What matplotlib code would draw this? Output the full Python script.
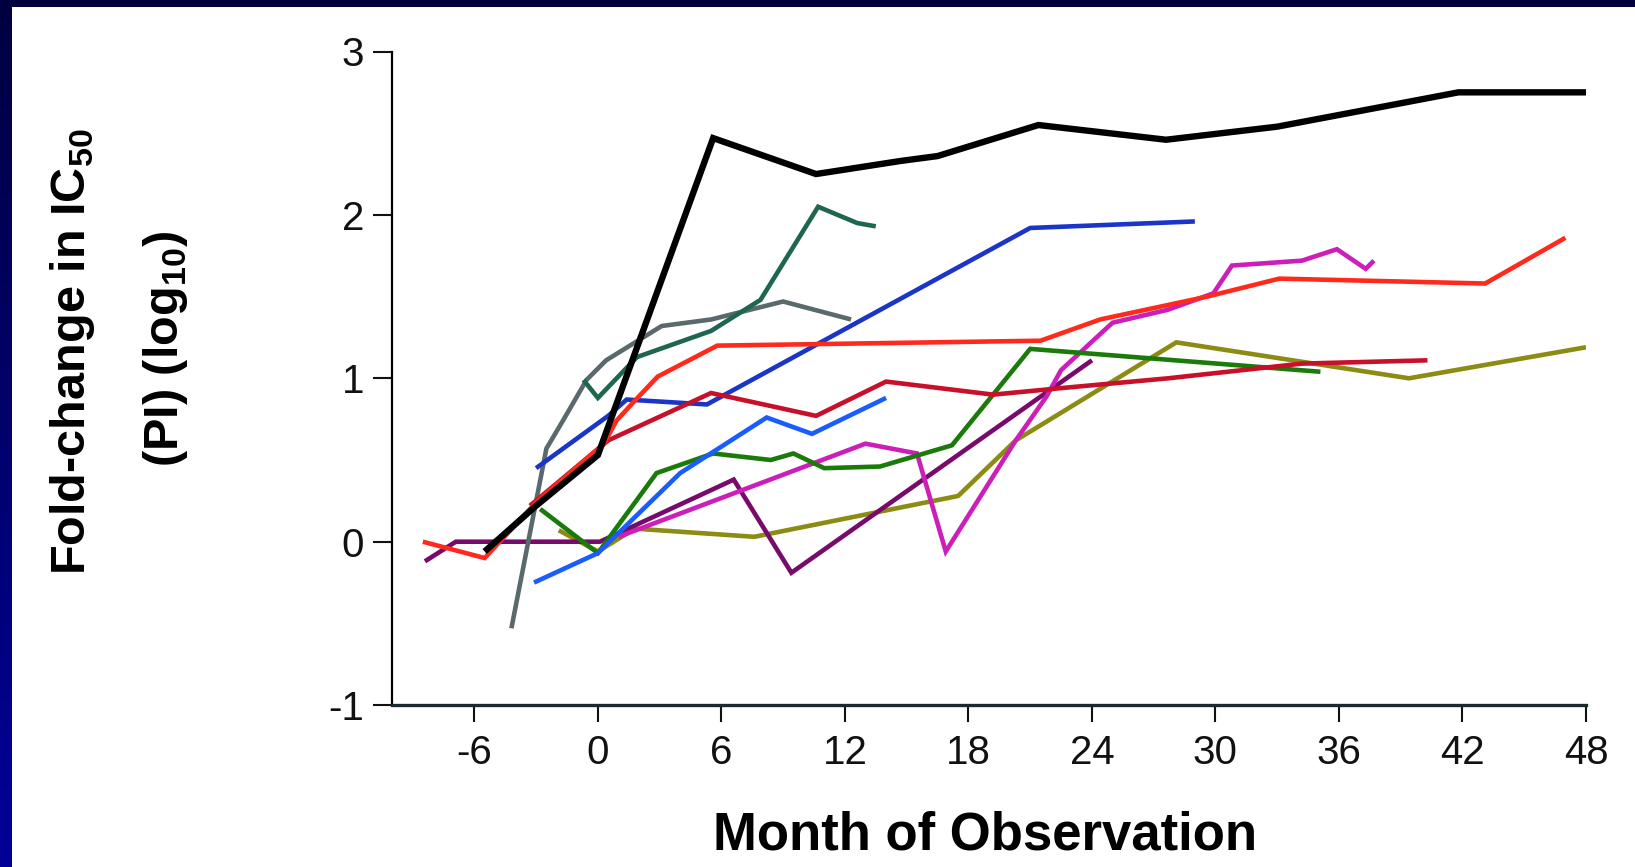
import matplotlib
matplotlib.use('Agg')
import matplotlib.pyplot as plt
import numpy as np

plt.rcParams['font.family'] = ['Liberation Sans', 'DejaVu Sans']
plt.rcParams['mathtext.fontset'] = 'custom'
plt.rcParams['mathtext.rm'] = 'Liberation Sans'
plt.rcParams['mathtext.bf'] = 'Liberation Sans:bold'
plt.rcParams['axes.unicode_minus'] = False

# month of observation / log10 fold-change for each patient
black_m = [-5.5, -3, 0, 5.6, 10.6, 14.7, 16.5, 21.4, 27.6, 33, 41.8, 48]
black_v = [-0.06, 0.22, 0.53, 2.47, 2.25, 2.33, 2.36, 2.55, 2.46, 2.54, 2.75, 2.75]

teal_m = [-0.7, 0, 1.9, 5.5, 7.9, 10.7, 12.6, 13.5]
teal_v = [0.99, 0.88, 1.13, 1.29, 1.48, 2.05, 1.95, 1.93]

gray_m = [-4.2, -2.5, -1.7, -0.55, 0.4, 3.1, 5.5, 9.0, 12.3]
gray_v = [-0.53, 0.57, 0.74, 0.99, 1.11, 1.32, 1.36, 1.47, 1.36]

dblue_m = [-3.0, 0.5, 1.4, 5.3, 21.0, 29.0]
dblue_v = [0.45, 0.77, 0.87, 0.84, 1.92, 1.96]

lblue_m = [-3.1, 0, 4.0, 8.2, 10.4, 14.0]
lblue_v = [-0.25, -0.07, 0.42, 0.76, 0.66, 0.88]

red_m = [-8.5, -5.5, -3, 0.3, 0.9, 1.7, 2.9, 5.8, 21.5, 24.4, 29.6, 33.1, 43.1, 47]
red_v = [0.0, -0.1, 0.24, 0.6, 0.74, 0.85, 1.01, 1.2, 1.23, 1.36, 1.5, 1.61, 1.58, 1.86]

crimson_m = [-3.3, 0.5, 5.5, 10.6, 14.0, 19.2, 22.5, 27.7, 34.2, 40.3]
crimson_v = [0.22, 0.62, 0.91, 0.77, 0.98, 0.9, 0.94, 1.0, 1.09, 1.11]

magenta_m = [1.0, 13.0, 15.5, 16.9, 20.3, 21.8, 22.5, 25.0, 27.7, 29.9, 30.8, 34.2, 35.9, 37.3, 37.7]
magenta_v = [0.03, 0.6, 0.54, -0.06, 0.62, 0.89, 1.05, 1.34, 1.42, 1.52, 1.69, 1.72, 1.79, 1.67, 1.72]

purple_m = [-8.4, -6.9, 0.1, 6.6, 9.4, 24.0]
purple_v = [-0.12, 0.0, 0.0, 0.38, -0.19, 1.11]

green_m = [-2.8, 0, 2.85, 5.6, 8.4, 9.5, 11.0, 13.7, 17.2, 21.0, 35.1]
green_v = [0.2, -0.07, 0.42, 0.54, 0.5, 0.54, 0.45, 0.46, 0.59, 1.18, 1.04]

olive_m = [-1.9, 0, 1.8, 7.6, 17.5, 20.3, 28.1, 39.4, 48]
olive_v = [0.07, -0.06, 0.08, 0.03, 0.28, 0.62, 1.22, 1.0, 1.19]

x_ticks = [-6, 0, 6, 12, 18, 24, 30, 36, 42, 48]
y_ticks = [-1, 0, 1, 2, 3]

fig = plt.figure(figsize=(16.35, 8.67), dpi=100)
fig.patch.set_facecolor('white')

# navy slide border on the left and top
left_band = fig.add_axes([0, 0, 11 / 1635, 1])
grad = np.linspace(0, 1, 256).reshape(-1, 1)
left_band.imshow(grad, aspect='auto', extent=[0, 1, 0, 1], origin='lower',
                 cmap=matplotlib.colors.LinearSegmentedColormap.from_list('nv', ['#000099', '#000040']))
left_band.axis('off')
top_band = fig.add_axes([0, 1 - 7 / 867, 1, 7 / 867])
top_band.set_facecolor('#000040')
top_band.set_xticks([])
top_band.set_yticks([])
for s in top_band.spines.values():
    s.set_visible(False)

ax = fig.add_axes([392 / 1635, 1 - 705.1 / 867, (1586 - 392) / 1635, (705.1 - 51.5) / 867])

series = [
    (olive_m, olive_v, '#8c8c14', 3.3),
    (purple_m, purple_v, '#780a6c', 3.3),
    (magenta_m, magenta_v, '#cc1eb8', 3.3),
    (green_m, green_v, '#1a7a0a', 3.3),
    (lblue_m, lblue_v, '#1a5cff', 3.3),
    (gray_m, gray_v, '#5a6a6c', 3.3),
    (teal_m, teal_v, '#1e6650', 3.3),
    (dblue_m, dblue_v, '#1a35c8', 3.3),
    (crimson_m, crimson_v, '#c8102a', 3.3),
    (red_m, red_v, '#ff2a1c', 3.3),
    (black_m, black_v, '#000000', 4.6),
]
for m, v, c, lw in series:
    ax.plot(m, v, color=c, lw=lw, solid_joinstyle='miter', solid_capstyle='butt')

ax.set_xlim(-10, 48)
ax.set_ylim(-1, 3)
ax.set_xticks(x_ticks)
ax.set_yticks(y_ticks)
ax.set_yticklabels([str(t) for t in y_ticks])
ax.spines['top'].set_visible(False)
ax.spines['right'].set_visible(False)
ax.spines['left'].set_linewidth(1.6)
ax.spines['bottom'].set_linewidth(2.4)
ax.spines['bottom'].set_color('#1a2a30')
ax.tick_params(axis='x', direction='out', length=12, width=1.5, pad=9,
               labelsize=29, colors='#111111')
ax.tick_params(axis='y', direction='out', length=14, width=1.5, pad=6,
               labelsize=29, colors='#111111')

fig.text(985 / 1635, 1 - 836 / 867, 'Month of Observation', ha='center', va='center',
         fontsize=38, fontweight='bold')
fig.text(73 / 1635, 1 - 352 / 867, r'Fold-change in IC$_{\mathbf{50}}$', rotation=90,
         ha='center', va='center', fontsize=35, fontweight='bold')
fig.text(165 / 1635, 1 - 349 / 867, r'(PI) (log$_{\mathbf{10}}$)', rotation=90,
         ha='center', va='center', fontsize=35, fontweight='bold')

fig.savefig('out.png', dpi=100)
